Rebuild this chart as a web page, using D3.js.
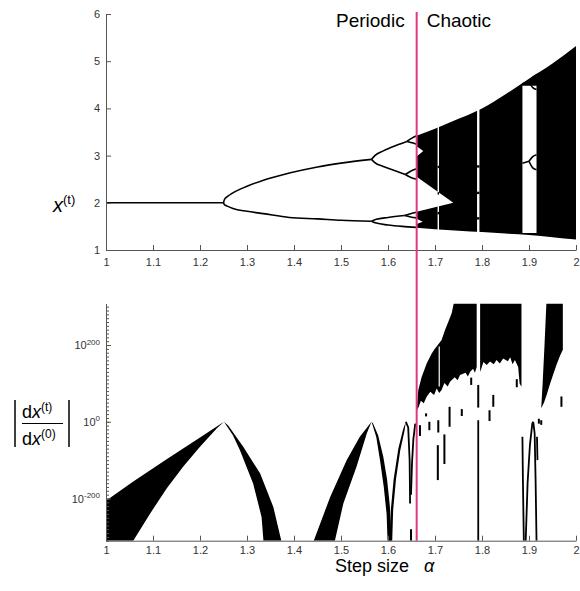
<!DOCTYPE html>
<html>
<head>
<meta charset="utf-8">
<script src="https://cdn.jsdelivr.net/npm/d3@7"></script>
<style>
body { margin: 0; background: #fff; }
text { font-family: "Liberation Sans", Arial, sans-serif; }
</style>
</head>
<body>
<div id="chart"></div>
<script>
// tick labels
var alphaTicks = [1, 1.1, 1.2, 1.3, 1.4, 1.5, 1.6, 1.7, 1.8, 1.9, 2];
var stateTicks = [1, 2, 3, 4, 5, 6];
var gradTicks = [-200, 0, 200];          // exponents of ten
var boundaryAlpha = 1.661;                // periodic / chaotic split

// ---- top panel: x(t) against step size, [alpha, x] ----
var fixedBranch = [[1, 2], [1.25, 2]];
var period2Hi = [[1.25, 2], [1.252, 2.07], [1.258, 2.13], [1.27, 2.21], [1.3, 2.35], [1.335, 2.48], [1.39, 2.63], [1.45, 2.76], [1.5, 2.84], [1.565, 2.92]];
var period2Lo = [[1.25, 2], [1.252, 1.96], [1.258, 1.93], [1.27, 1.88], [1.3, 1.82], [1.335, 1.77], [1.39, 1.69], [1.45, 1.66], [1.5, 1.63], [1.565, 1.61]];
var period4 = [
  [[1.565, 2.92], [1.572, 3.0], [1.59, 3.1], [1.618, 3.22], [1.64, 3.3]],
  [[1.565, 2.92], [1.572, 2.85], [1.59, 2.77], [1.618, 2.67], [1.637, 2.6]],
  [[1.565, 1.61], [1.575, 1.65], [1.6, 1.69], [1.635, 1.73]],
  [[1.565, 1.61], [1.575, 1.57], [1.6, 1.53], [1.63, 1.5], [1.661, 1.48]]
];
var period8 = [
  [[1.64, 3.3], [1.651, 3.37], [1.661, 3.42]],
  [[1.64, 3.3], [1.651, 3.27], [1.661, 3.24]],
  [[1.637, 2.6], [1.65, 2.68], [1.661, 2.72]],
  [[1.637, 2.6], [1.65, 2.53], [1.661, 2.5]],
  [[1.635, 1.73], [1.648, 1.77], [1.661, 1.8]],
  [[1.635, 1.73], [1.648, 1.7], [1.661, 1.68]]
];
var chaosAlpha = [1.661, 1.7, 1.75, 1.8, 1.85, 1.9, 1.95, 2.0];
var chaosTop = [3.42, 3.57, 3.78, 4.0, 4.3, 4.63, 4.95, 5.32];
var chaosBottom = [1.47, 1.44, 1.41, 1.38, 1.35, 1.32, 1.27, 1.22];
var whiteGaps = [
  [[1.661, 2.55], [1.739, 2.0], [1.661, 1.81]],
  [[1.661, 3.2], [1.675, 3.1], [1.661, 2.98]],
  [[1.661, 1.66], [1.674, 1.6], [1.661, 1.55]]
];
var windowAlpha = [1.707, 1.792];
var windowWidth = [0.003, 0.005];
var windowDots = [[2.76, 2.2, 1.78], [2.77, 2.21, 1.67]];
var period3Window = [1.886, 1.916];
var period3Span = [1.36, 4.48];
var period3Branches = [
  [[1.886, 4.52], [1.9, 4.57]],
  [[1.9, 4.57], [1.908, 4.66], [1.916, 4.7]],
  [[1.9, 4.57], [1.908, 4.44], [1.916, 4.4]],
  [[1.886, 2.84], [1.9, 2.88]],
  [[1.9, 2.88], [1.908, 2.98], [1.916, 3.02]],
  [[1.9, 2.88], [1.908, 2.74], [1.916, 2.7]]
];

// ---- bottom panel: |dx(t)/dx(0)| as power of ten, [alpha, exponent] ----
var bands = [
  [[1.0, -310], [1.0, -206], [1.058, -156], [1.129, -98], [1.2, -41], [1.251, 0], [1.236, -17], [1.2, -65], [1.164, -117], [1.129, -174], [1.094, -239], [1.058, -310]],
  [[1.251, 0], [1.27, -35], [1.285, -74], [1.313, -161], [1.331, -248], [1.335, -310], [1.373, -310], [1.356, -222], [1.328, -135], [1.292, -65], [1.26, -10]],
  [[1.442, -310], [1.477, -196], [1.512, -100], [1.54, -39], [1.565, 0], [1.555, -30], [1.533, -117], [1.505, -213], [1.487, -310]],
  [[1.565, 0], [1.575, -40], [1.583, -100], [1.591, -170], [1.597, -240], [1.599, -310], [1.607, -310], [1.604, -220], [1.598, -150], [1.59, -91], [1.579, -35], [1.568, -4]],
  [[1.603, -310], [1.606, -230], [1.612, -150], [1.622, -70], [1.632, -20], [1.638, 0], [1.635, -25], [1.626, -75], [1.617, -150], [1.611, -230], [1.609, -310]]
];
var chaosMasses = [
  [[1.661, 30], [1.6645, 83], [1.6716, 117], [1.6823, 152], [1.693, 178], [1.7, 191], [1.7035, 196], [1.714, 213], [1.7213, 239], [1.7284, 261], [1.7355, 283], [1.739, 304], [1.74, 308], [1.7887, 308],
   [1.7887, 143], [1.785, 128], [1.781, 138], [1.7745, 130], [1.77, 118], [1.765, 128], [1.7532, 122], [1.748, 108], [1.742, 116], [1.732, 104], [1.727, 92], [1.72, 101], [1.714, 83], [1.709, 75], [1.7035, 87], [1.698, 70], [1.69, 78], [1.6823, 65], [1.676, 48], [1.67, 55], [1.665, 38]],
  [[1.796, 308], [1.884, 308], [1.884, 91], [1.88, 100], [1.877, 143], [1.87, 161], [1.865, 150], [1.86, 168], [1.855, 158], [1.845, 165], [1.838, 152], [1.831, 161], [1.825, 150], [1.817, 157], [1.81, 148], [1.803, 156], [1.799, 140], [1.796, 130]],
  [[1.937, 308], [1.972, 308], [1.972, 188], [1.966, 172], [1.959, 150], [1.952, 125], [1.945, 100], [1.938, 72], [1.932, 50], [1.926, 35], [1.929, 100], [1.933, 200]]
];
var slit = [[1.709, 196], [1.709, 92]];
var bars = [
  [1.668, -9, -37], [1.681, 22, 14], [1.688, 0, -22], [1.707, 4, -28], [1.706, -61, -152],
  [1.72, -33, -110], [1.731, 39, -13], [1.757, 33, 15], [1.777, 115, 96], [1.792, 96, 37],
  [1.816, 30, 2], [1.824, 70, 39], [1.874, 111, 90], [1.969, 66, 39], [1.649, -280, -310],
  [1.921, 8, -5], [1.926, 4, -8]
];
var thinLines = [
  [[1.792, 4], [1.792, -310]],
  [[1.638, 0], [1.643, -15], [1.646, -100], [1.647, -213]],
  [[1.649, -190], [1.651, -110], [1.654, -45], [1.658, -5]],
  [[1.886, -39], [1.887, -150], [1.889, -310]],
  [[1.893, -310], [1.897, -160], [1.902, -60], [1.907, -5], [1.909, 0]],
  [[1.909, 0], [1.912, -30], [1.914, -150], [1.916, -310]],
  [[1.917, -39], [1.918, -100]]
];

var svg = d3.select("#chart").append("svg")
    .attr("width", 580).attr("height", 591);

var x = d3.scaleLinear().domain([1, 2]).range([106, 576]);
var yTop = d3.scaleLinear().domain([1, 6]).range([250, 14]);
var yBot = d3.scaleLinear().domain([-310, 308]).range([540.7, 303.6]);

var defs = svg.append("defs");
defs.append("clipPath").attr("id", "clipTop").append("rect")
    .attr("x", x(1)).attr("y", yTop(6)).attr("width", x(2) - x(1)).attr("height", yTop(1) - yTop(6));
defs.append("clipPath").attr("id", "clipBot").append("rect")
    .attr("x", x(1)).attr("y", yBot(308)).attr("width", x(2) - x(1)).attr("height", yBot(-310) - yBot(308));

// top panel
var lineTop = d3.line().x(function (d) { return x(d[0]); }).y(function (d) { return yTop(d[1]); }).curve(d3.curveMonotoneX);
var polyTop = d3.line().x(function (d) { return x(d[0]); }).y(function (d) { return yTop(d[1]); });
var topPanel = svg.append("g").attr("clip-path", "url(#clipTop)");

var branches = [fixedBranch, period2Hi, period2Lo].concat(period4, period8);
topPanel.selectAll(".branch").data(branches).enter().append("path")
    .attr("d", lineTop).attr("fill", "none").attr("stroke", "#000").attr("stroke-width", 1.6);

var chaosArea = d3.area()
    .x(function (d, i) { return x(chaosAlpha[i]); })
    .y0(function (d, i) { return yTop(chaosBottom[i]); })
    .y1(function (d, i) { return yTop(chaosTop[i]); })
    .curve(d3.curveMonotoneX);
topPanel.append("path").attr("d", chaosArea(chaosAlpha)).attr("fill", "#000");

topPanel.selectAll(".gap").data(whiteGaps).enter().append("path")
    .attr("d", function (d) { return polyTop(d) + "Z"; }).attr("fill", "#fff");

windowAlpha.forEach(function (a, i) {
    var w = x(a + windowWidth[i]) - x(a);
    topPanel.append("rect").attr("x", x(a) - w / 2).attr("width", w)
        .attr("y", yTop(4.2)).attr("height", yTop(1.3) - yTop(4.2)).attr("fill", "#fff");
    topPanel.selectAll(null).data(windowDots[i]).enter().append("rect")
        .attr("x", x(a) - w / 2).attr("width", w)
        .attr("y", function (d) { return yTop(d) - 1.2; }).attr("height", 2.4).attr("fill", "#000");
});

topPanel.append("rect")
    .attr("x", x(period3Window[0])).attr("width", x(period3Window[1]) - x(period3Window[0]))
    .attr("y", yTop(period3Span[1])).attr("height", yTop(period3Span[0]) - yTop(period3Span[1]))
    .attr("fill", "#fff");
topPanel.selectAll(".p3").data(period3Branches).enter().append("path")
    .attr("d", lineTop).attr("fill", "none").attr("stroke", "#000").attr("stroke-width", 1.6);

var ax1 = svg.append("g").attr("transform", "translate(0," + yTop(1) + ")")
    .call(d3.axisBottom(x).tickValues(alphaTicks).tickFormat(d3.format("~g")).tickSize(-5).tickSizeOuter(0).tickPadding(8));
var ay1 = svg.append("g").attr("transform", "translate(" + x(1) + ",0)")
    .call(d3.axisLeft(yTop).tickValues(stateTicks).tickFormat(d3.format("d")).tickSize(-5).tickSizeOuter(0).tickPadding(6));

// bottom panel
var polyBot = d3.line().x(function (d) { return x(d[0]); }).y(function (d) { return yBot(d[1]); });
var botPanel = svg.append("g").attr("clip-path", "url(#clipBot)");

botPanel.selectAll(".band").data(bands.concat(chaosMasses)).enter().append("path")
    .attr("d", function (d) { return polyBot(d) + "Z"; }).attr("fill", "#000");
botPanel.append("path").attr("d", polyBot(slit)).attr("stroke", "#fff").attr("stroke-width", 1.2);
botPanel.selectAll(".bar").data(bars).enter().append("rect")
    .attr("x", function (d) { return x(d[0]) - 1; }).attr("width", 2)
    .attr("y", function (d) { return yBot(d[1]); })
    .attr("height", function (d) { return yBot(d[2]) - yBot(d[1]); })
    .attr("fill", "#000");
botPanel.selectAll(".thin").data(thinLines).enter().append("path")
    .attr("d", polyBot).attr("fill", "none").attr("stroke", "#000").attr("stroke-width", 1.8);

var ax2 = svg.append("g").attr("transform", "translate(0," + yBot(-310) + ")")
    .call(d3.axisBottom(x).tickValues(alphaTicks).tickFormat(d3.format("~g")).tickSize(-5).tickSizeOuter(0).tickPadding(6));
var ay2minor = svg.append("g").attr("transform", "translate(" + x(1) + ",0)")
    .call(d3.axisLeft(yBot).tickValues(d3.range(-310, 309, 10)).tickFormat("").tickSize(-3).tickSizeOuter(0));
var ay2 = svg.append("g").attr("transform", "translate(" + x(1) + ",0)")
    .call(d3.axisLeft(yBot).tickValues(gradTicks).tickFormat("").tickSize(-5).tickSizeOuter(0).tickPadding(6));
ay2.selectAll(".tick text").each(function (d) {
    var t = d3.select(this);
    t.text("10");
    t.append("tspan").attr("dy", "-0.55em").attr("font-size", "8px").text(d);
});

[ax1, ay1, ax2, ay2minor, ay2].forEach(function (g) {
    g.attr("font-family", "Liberation Sans, Arial, sans-serif").attr("font-size", 11);
    g.selectAll("path, line").attr("stroke", "#555");
    g.selectAll("text").attr("fill", "#333");
});

// boundary marker
svg.append("line")
    .attr("x1", x(boundaryAlpha)).attr("x2", x(boundaryAlpha))
    .attr("y1", 12).attr("y2", yBot(-310))
    .attr("stroke", "#e3367c").attr("stroke-width", 2);

svg.append("text").attr("x", x(boundaryAlpha) - 12).attr("y", 27)
    .attr("text-anchor", "end").attr("font-size", 19).text("Periodic");
svg.append("text").attr("x", x(boundaryAlpha) + 10).attr("y", 27)
    .attr("font-size", 19).text("Chaotic");

var xl = svg.append("text").attr("x", 335).attr("y", 572).attr("font-size", 18);
xl.append("tspan").text("Step size ");
xl.append("tspan").attr("x", 424).attr("font-style", "italic").text("α");

var yl = svg.append("text").attr("x", 53).attr("y", 212).attr("font-size", 20);
yl.append("tspan").attr("font-style", "italic").text("x");
yl.append("tspan").attr("dy", -8).attr("font-size", 13).text("(t)");

// |dx(t)/dx(0)| label
var frac = svg.append("g");
frac.append("line").attr("x1", 15).attr("x2", 15).attr("y1", 400).attr("y2", 447).attr("stroke", "#000").attr("stroke-width", 1.5);
frac.append("line").attr("x1", 69).attr("x2", 69).attr("y1", 400).attr("y2", 447).attr("stroke", "#000").attr("stroke-width", 1.5);
frac.append("line").attr("x1", 22).attr("x2", 63).attr("y1", 423.5).attr("y2", 423.5).attr("stroke", "#000").attr("stroke-width", 1);
[["(t)", 417.5], ["(0)", 445]].forEach(function (p) {
    var t = frac.append("text").attr("x", 22).attr("y", p[1]).attr("font-size", 18);
    t.append("tspan").text("d");
    t.append("tspan").attr("font-style", "italic").text("x");
    t.append("tspan").attr("dy", -7).attr("font-size", 12).text(p[0]);
});
</script>
</body>
</html>
